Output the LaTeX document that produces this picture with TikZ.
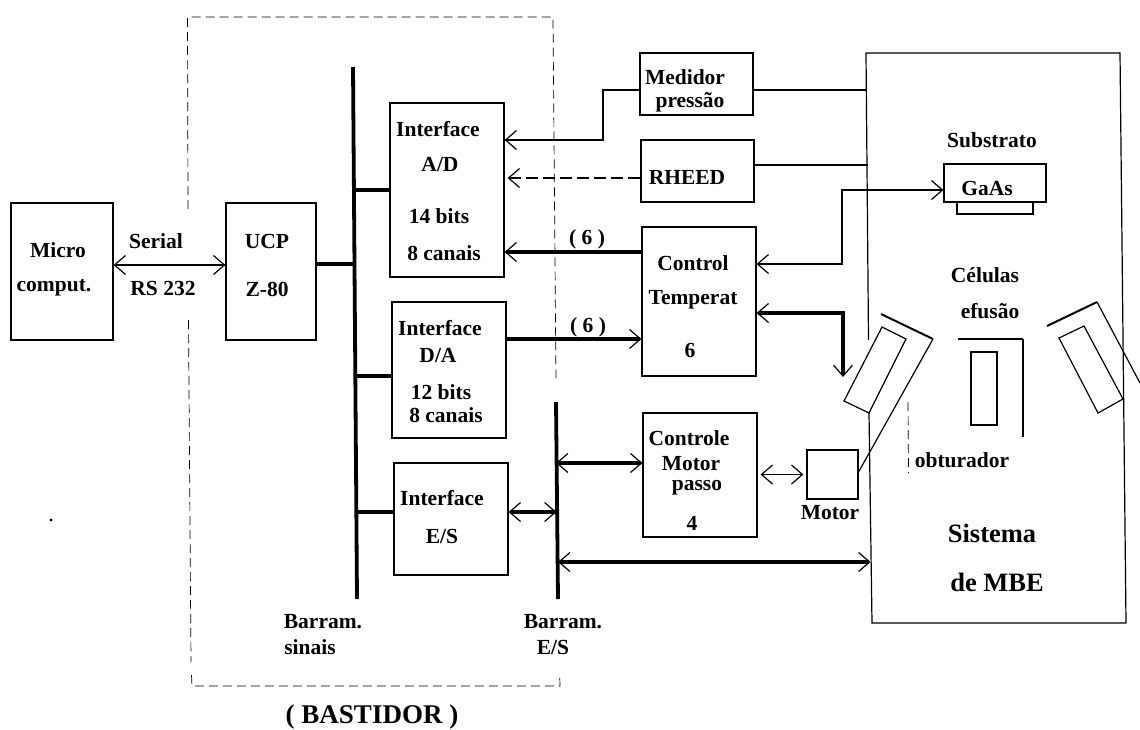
\documentclass[tikz,border=0pt]{standalone}
\usepackage{fontspec}
\setmainfont{Liberation Serif}
\usetikzlibrary{arrows.meta}
\tikzset{
  blockbox/.style={draw, line width=1.2pt, inner sep=0pt},
  lbl/.style={font=\bfseries\fontsize{21.5}{24}\selectfont, inner sep=0pt},
  biglbl/.style={font=\bfseries\fontsize{26.5}{30}\selectfont, inner sep=0pt},
  thinlink/.style={line width=1.2pt},
  thicklink/.style={line width=3.2pt},
  buslink/.style={line width=3.8pt},
  rackline/.style={line width=0.7pt, dash pattern=on 9pt off 5pt},
  barb/.tip={Straight Barb[length=11pt,width=19pt,line width=1.2pt]}
}
\begin{document}
\begin{tikzpicture}[x=1pt,y=-1pt]
\useasboundingbox (0,0) rectangle (1140,729);
% Draw blocks
\node[blockbox, minimum width=102, minimum height=137] (micro) at (62,271.5) {};
\node[blockbox, minimum width=90, minimum height=137] (ucp) at (271,271.5) {};
\node[blockbox, minimum width=114, minimum height=174] (ad) at (447,190) {};
\node[blockbox, minimum width=114, minimum height=136] (da) at (449,370) {};
\node[blockbox, minimum width=114, minimum height=112] (es) at (451,519) {};
\node[blockbox, minimum width=113, minimum height=62] (medidor) at (696.5,84) {};
\node[blockbox, minimum width=113, minimum height=62] (rheed) at (697.5,171) {};
\node[blockbox, minimum width=114, minimum height=149] (temp) at (699,301.5) {};
\node[blockbox, minimum width=114, minimum height=124] (passo) at (700,475) {};
\node[blockbox, minimum width=51, minimum height=49] (motor) at (832.5,474.5) {};
\node[blockbox, minimum width=102, minimum height=38] (gaas) at (995,183) {};
% Draw block texts
\node[lbl] (microa) at (58,250) {Micro};
\node[lbl] (microb) at (54,288) {comput.};
\node[lbl] (serial) at (156,241) {Serial};
\node[lbl] (rs) at (163,288) {RS 232};
\node[lbl] (ucpa) at (267,241) {UCP};
\node[lbl] (ucpb) at (267,289) {Z-80};
\node[lbl] (ada) at (438,129) {Interface};
\node[lbl] (adb) at (440,165) {A/D};
\node[lbl] (adc) at (439,216) {14 bits};
\node[lbl] (add) at (444,253) {8 canais};
\node[lbl] (daa) at (440,328) {Interface};
\node[lbl] (dab) at (438,355) {D/A};
\node[lbl] (dac) at (441,392) {12 bits};
\node[lbl] (dad) at (446,415) {8 canais};
\node[lbl] (esa) at (442,498) {Interface};
\node[lbl] (esb) at (442,536) {E/S};
\node[lbl] (meda) at (685,77) {Medidor};
\node[lbl] (medb) at (690,102) {pressão};
\node[lbl] (rha) at (687,177) {RHEED};
\node[lbl] (tempa) at (693,263) {Control};
\node[lbl] (tempb) at (693,300) {Temperat};
\node[lbl] (tempc) at (690,350) {6};
\node[lbl] (passoa) at (689,438) {Controle};
\node[lbl] (passob) at (691,464) {Motor};
\node[lbl] (passoc) at (697,488) {passo};
\node[lbl] (passod) at (692,523) {4};
\node[lbl] (sixa) at (587,239) {( 6 )};
\node[lbl] (sixb) at (588,327) {( 6 )};
\node[lbl] (motorl) at (830,513) {Motor};
\node[lbl] (subs) at (992,140) {Substrato};
\node[lbl] (gaasl) at (987,188) {GaAs};
\node[lbl] (cela) at (985,275) {Células};
\node[lbl] (celb) at (990,311) {efusão};
\node[lbl] (obt) at (962,460) {obturador};
\node[biglbl] (mbea) at (992,533) {Sistema};
\node[biglbl] (mbeb) at (997,582) {de MBE};
\node[lbl] (bara) at (323,622) {Barram.};
\node[lbl] (barb) at (310,647) {sinais};
\node[lbl] (barc) at (563,622) {Barram.};
\node[lbl] (bard) at (553,647) {E/S};
\node[lbl, font=\bfseries\fontsize{27}{30}\selectfont] (rack) at (372,717) {( BASTIDOR )};
% Draw rack outline
\draw[rackline] (188,209) -- (187.5,17) -- (553,17) -- (556,383);
\draw[rackline] (188.5,320) -- (191,662);
\draw[rackline] (191.5,675) -- (192,686) -- (560,686) -- (559.7,675);
% Draw MBE chamber wall
\draw[thinlink] (868.5,340) -- (866,53) -- (1120,53) -- (1126,623) -- (872,623) -- (869,413);
% Draw effusion cells
\draw[thinlink] (882,327) -- (906,339) -- (869,413) -- (844,401) -- cycle;
\draw[line width=2pt] (881,314) -- (933,339);
\draw[thinlink] (933,339) -- (858,473);
\draw[thinlink] (971,352) rectangle (997,425);
\draw[line width=2pt] (958,339) -- (1023,339);
\draw[thinlink] (1023,339) -- (1023,437);
\draw[thinlink] (1059,338) -- (1084,326) -- (1123,399) -- (1098,413) -- cycle;
\draw[line width=2pt] (1047,326) -- (1097,302);
\draw[thinlink] (1097,302) -- (1140,383);
% Draw substrate holder and shutter
\draw[thinlink] (957,202) -- (957,214) -- (1033,214) -- (1033,202);
\draw[rackline] (908,402) -- (908.5,473);
% Draw the two buses
\coordinate (sigtop) at (353,67);
\coordinate (sigbot) at (357,599);
\coordinate (estop) at (556,402);
\coordinate (esbot) at (558,599);
\draw[buslink] (sigtop) -- (sigbot);
\draw[buslink] (estop) -- (esbot);
% Draw bus taps
\coordinate (tapucp) at (354,264);
\coordinate (tapad) at (354,190);
\coordinate (tapda) at (355,376);
\coordinate (tapes) at (356,512);
\draw[thicklink] (ucp.east |- tapucp) -- (tapucp);
\draw[thicklink] (ad.west |- tapad) -- (tapad);
\draw[thicklink] (da.west |- tapda) -- (tapda);
\draw[thicklink] (es.west |- tapes) -- (tapes);
% Draw serial link
\coordinate (seriald) at (170,265);
\draw[thinlink, barb-barb] (micro.east |- seriald) -- (ucp.west |- seriald);
% Draw signals into the A/D interface
\coordinate (medup) at (603,90);
\coordinate (meddn) at (603,140);
\coordinate (rhd) at (570,178);
\coordinate (tempd) at (570,252);
\coordinate (dad2) at (570,339);
\draw[thinlink, -barb] (medidor.west |- medup) -- (medup) -- (meddn) -- (ad.east |- meddn);
\draw[thinlink, dash pattern=on 12pt off 5pt, -barb, shorten >=3pt] (rheed.west |- rhd) -- (ad.east |- rhd);
\draw[thicklink, -barb] (temp.west |- tempd) -- (ad.east |- tempd);
\draw[thicklink, -barb] (da.east |- dad2) -- (temp.west |- dad2);
% Draw links to the I/O bus
\coordinate (eslink) at (556.5,512);
\coordinate (passolink) at (556,463);
\coordinate (mbelink) at (558,562);
\coordinate (mbewall) at (870.5,562);
\draw[thicklink, barb-barb] (es.east |- eslink) -- (eslink);
\draw[thicklink, barb-barb] (passolink) -- (passo.west |- passolink);
\draw[thicklink, barb-barb] (mbelink) -- (mbewall);
\draw[thinlink, barb-barb, shorten <=3pt, shorten >=3pt] (passo.east |- motor) -- (motor.west);
% Draw links to the chamber
\coordinate (wallm) at (867,90);
\coordinate (wallr) at (867.5,165);
\draw[thinlink] (medidor.east |- wallm) -- (wallm);
\draw[thinlink] (rheed.east |- wallr) -- (wallr);
\coordinate (heatup) at (842,190);
\coordinate (heatdn) at (842,264);
\draw[thinlink, barb-barb] (gaas.west |- heatup) -- (heatup) -- (heatdn) -- (temp.east |- heatdn);
\coordinate (cellup) at (843,313);
\coordinate (celldn) at (843,377);
\draw[thicklink, barb-barb] (temp.east |- cellup) -- (cellup) -- (celldn);
% Draw speck
\fill (51,520) circle (1.7);
\end{tikzpicture}
\end{document}
